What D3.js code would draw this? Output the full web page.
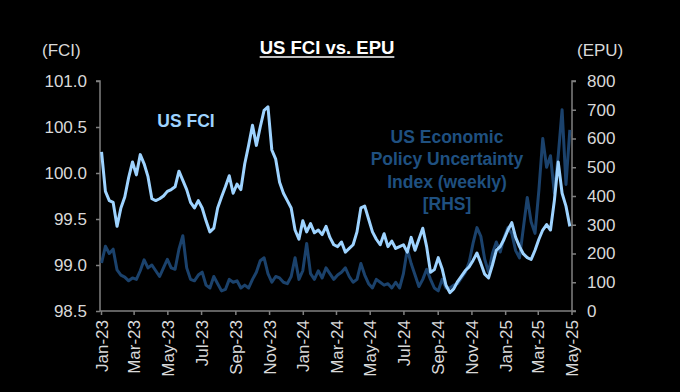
<!DOCTYPE html>
<html><head><meta charset="utf-8">
<script src="https://cdn.jsdelivr.net/npm/d3@7"></script>
<style>html,body{margin:0;padding:0;background:#000;}svg{display:block;}</style>
</head><body>
<svg id="chart" width="680" height="392"></svg>
<script>
// ---- data ----
const firstWeek = "2023-01-02"; // weekly observations, one per week
const fciValues = [
100.23,99.80,99.70,99.68,99.42,99.62,99.74,99.95,100.12,99.98,
100.20,100.10,99.96,99.72,99.70,99.72,99.75,99.80,99.82,99.85,
100.02,99.92,99.82,99.68,99.62,99.70,99.62,99.48,99.36,99.40,
99.62,99.74,99.85,99.97,99.78,99.88,99.82,100.10,100.30,100.52,
100.30,100.50,100.68,100.72,100.25,100.15,99.90,99.78,99.70,99.62,
99.38,99.28,99.48,99.36,99.45,99.35,99.38,99.33,99.42,99.30,
99.22,99.20,99.25,99.14,99.18,99.22,99.36,99.62,99.64,99.50,
99.36,99.28,99.22,99.34,99.20,99.26,99.18,99.20,99.22,99.14,
99.30,99.16,99.28,99.40,99.20,98.92,98.95,99.08,98.96,98.78,
98.70,98.74,98.82,98.88,98.94,98.98,99.05,99.13,99.02,98.90,
98.86,99.00,99.16,99.20,99.28,99.38,99.46,99.30,99.20,99.12,
99.08,99.06,99.16,99.28,99.38,99.44,99.38,99.70,100.12,99.78,
99.64,99.42];
const epuValues = [
167,225,200,215,143,125,118,105,115,110,
140,178,150,160,140,120,150,180,150,145,
215,262,150,110,105,125,135,90,80,120,
95,70,75,110,100,105,80,90,80,110,
135,175,185,130,100,120,115,100,95,120,
185,110,140,235,130,110,140,115,150,130,
110,125,135,150,120,100,110,165,125,95,
80,110,100,90,95,80,100,80,130,215,
165,125,85,110,145,110,80,70,110,80,
80,90,95,115,135,170,236,290,260,180,
135,200,240,205,255,290,270,210,185,290,
395,310,270,420,600,500,540,410,540,700,
440,630];
const fciTicks = [98.5, 99.0, 99.5, 100.0, 100.5, 101.0];
const epuTicks = [0, 100, 200, 300, 400, 500, 600, 700, 800];
const monthTicks = ["2023-01-01","2023-03-01","2023-05-01","2023-07-01","2023-09-01","2023-11-01",
  "2024-01-01","2024-03-01","2024-05-01","2024-07-01","2024-09-01","2024-11-01",
  "2025-01-01","2025-03-01","2025-05-01"];
const titleText = "US FCI vs. EPU";
const fciLabel = "US FCI";
const epuLabel = ["US Economic", "Policy Uncertainty", "Index (weekly)", "[RHS]"];

// ---- build ----
const parse = d3.utcParse("%Y-%m-%d");
const start = parse(firstWeek);
const dates = fciValues.map((_, i) => d3.utcDay.offset(start, 7 * i));
const rows = dates.map((d, i) => ({date: d, fci: fciValues[i], epu: epuValues[i]}));

const svg = d3.select("#chart");
const L = 100, R = 572, T = 81, B = 311;
const FONT = "'Liberation Sans', Arial, sans-serif";
const LIGHT = "#9ed3ff", DARK = "#1b426c", EPUTEXT = "#1f5080";
const AXIS = "#808080", LABEL = "#d9d9d9";

svg.append("rect").attr("width", 680).attr("height", 392).attr("fill", "#000");

const x = d3.scaleUtc().domain([parse("2023-01-01"), parse("2025-05-01")]).range([L + 1, R - 0.5]);
const yL = d3.scaleLinear().domain([98.5, 101]).range([B, T]);
const yR = d3.scaleLinear().domain([0, 800]).range([B, T]);

// axes
const axL = d3.axisLeft(yL).tickValues(fciTicks).tickFormat(d3.format(".1f")).tickSize(4).tickPadding(9);
const axR = d3.axisRight(yR).tickValues(epuTicks).tickFormat(d3.format("d")).tickSize(4).tickPadding(11);
const axB = d3.axisBottom(x).tickValues(monthTicks.map(parse)).tickFormat(d3.utcFormat("%b-%y")).tickSize(4).tickPadding(6);

function style(g) {
  g.select(".domain").attr("stroke", AXIS).attr("stroke-width", 1.5);
  g.selectAll(".tick line").attr("stroke", AXIS).attr("stroke-width", 1.5);
  g.selectAll(".tick text").attr("fill", LABEL).style("font-family", FONT).style("font-size", "17px");
}
const gL = svg.append("g").attr("transform", `translate(${L},0)`).call(axL).call(style);
gL.select(".domain").attr("d", `M-4,${T}H0V${B}`);
const gR = svg.append("g").attr("transform", `translate(${R},0)`).call(axR).call(style);
gR.select(".domain").attr("d", `M4,${T}H0V${B}`);
const gB = svg.append("g").attr("transform", `translate(0,${B})`).call(axB).call(style);
gB.select(".domain").attr("d", `M${L},0H${R + 4}`);
gB.selectAll(".tick text")
  .attr("text-anchor", "end")
  .attr("transform", "rotate(-90)")
  .attr("x", -9).attr("y", 0).attr("dy", "0.36em");

// lines
const lineF = d3.line().x(d => x(d.date)).y(d => yL(d.fci));
const lineE = d3.line().x(d => x(d.date)).y(d => yR(d.epu));
svg.append("path").datum(rows).attr("d", lineE).attr("fill", "none")
  .attr("stroke", DARK).attr("stroke-width", 3).attr("stroke-linejoin", "round");
svg.append("path").datum(rows).attr("d", lineF).attr("fill", "none")
  .attr("stroke", LIGHT).attr("stroke-width", 3).attr("stroke-linejoin", "round");

// texts
const title = svg.append("text").attr("x", 327).attr("y", 54).attr("text-anchor", "middle")
  .attr("fill", "#fff").style("font-family", FONT).style("font-weight", "bold")
  .style("font-size", "18.5px").text(titleText);
const bb = title.node().getBBox();
svg.append("line").attr("x1", bb.x).attr("x2", bb.x + bb.width).attr("y1", 57).attr("y2", 57)
  .attr("stroke", "#fff").attr("stroke-width", 1.5);

svg.append("text").attr("x", 42).attr("y", 56).attr("fill", LABEL)
  .style("font-family", FONT).style("font-size", "17px").text("(FCI)");
svg.append("text").attr("x", 577).attr("y", 56).attr("fill", LABEL)
  .style("font-family", FONT).style("font-size", "17px").text("(EPU)");

svg.append("text").attr("x", 186).attr("y", 127).attr("text-anchor", "middle")
  .attr("fill", LIGHT).style("font-family", FONT).style("font-weight", "bold")
  .style("font-size", "17.5px").text(fciLabel);

svg.append("g").selectAll("text").data(epuLabel).join("text")
  .attr("x", 447).attr("y", (d, i) => 143 + i * 22.3).attr("text-anchor", "middle")
  .attr("fill", EPUTEXT).style("font-family", FONT).style("font-weight", "bold")
  .style("font-size", "17.5px").text(d => d);
</script>
</body></html>
